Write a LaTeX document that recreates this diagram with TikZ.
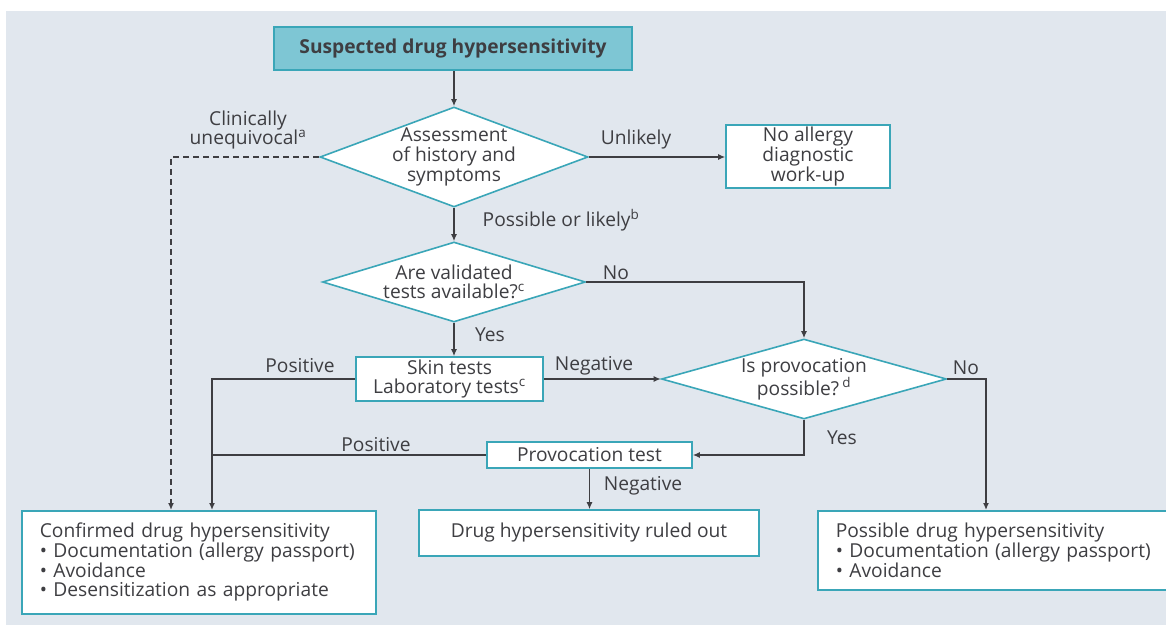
\documentclass[tikz,border=0pt]{standalone}
\usepackage{fontspec}
\setmainfont{Open Sans}
\usetikzlibrary{shapes.geometric,arrows.meta}

\definecolor{bgblue}{RGB}{225,231,238}
\definecolor{teal}{RGB}{58,166,184}
\definecolor{tealfill}{RGB}{126,198,212}
\definecolor{ink}{RGB}{62,62,66}

\tikzset{
  txt/.style = {text = ink, font = \fontsize{19.2}{19.6}\selectfont},
  box/.style = {txt, draw = teal, line width = 1.6pt, fill = white,
    align = center, inner sep = 0pt},
  dia/.style = {txt, diamond, aspect = 2.7, draw = teal, line width = 1.6pt,
    fill = white, align = center, inner sep = -12pt},
  lbl/.style = {txt, inner sep = 0pt},
  arr/.style = {draw = ink, line width = 1.3pt,
    -{Latex[length = 7pt, width = 6pt]}},
  line/.style = {draw = ink, line width = 1.3pt}
}

\begin{document}
\begin{tikzpicture}[x = 1pt, y = -1pt]
      % canvas
      % ------
      \useasboundingbox (0, 0) rectangle (1166, 628);
      \fill [white] (0, 0) rectangle (1166, 628);
      \fill [bgblue] (6, 11) rectangle (1166, 625);

      % nodes
      % -----
      \node [box, fill = tealfill, line width = 2.2pt,
        minimum width = 358pt, minimum height = 43pt,
        font = \fontsize{19.2}{19.6}\selectfont\bfseries]
        (suspect) at (453, 48.5) {Suspected drug hypersensitivity};
      \node [dia, minimum width = 268pt, minimum height = 100pt]
        (assess) at (454, 157) {Assessment\\of history and\\symptoms};
      \node [box, minimum width = 164pt, minimum height = 63pt]
        (noallergy) at (808, 156.5) {No allergy\\diagnostic\\work-up};
      \node [dia, minimum width = 263pt, minimum height = 80pt]
        (validated) at (454, 282) {Are validated\\tests available?\textsuperscript{c}};
      \node [box, minimum width = 187pt, minimum height = 44pt]
        (skintest) at (449.5, 379) {Skin tests\\Laboratory tests\textsuperscript{c}};
      \node [dia, minimum width = 285pt, minimum height = 80pt]
        (provq) at (804, 379) {Is provocation\\possible?\,\textsuperscript{d}};
      \node [box, minimum width = 205pt, minimum height = 26pt]
        (provtest) at (589.5, 455) {Provocation test};
      \node [box, minimum width = 340pt, minimum height = 46pt]
        (ruledout) at (589, 533) {Drug hypersensitivity ruled out};
      \node [box, align = left, anchor = north west, text width = 318pt,
        inner xsep = 18pt, minimum height = 103pt]
        (confirmed) at (21, 510) {Confirmed drug hypersensitivity\\
          • Documentation (allergy passport)\\
          • Avoidance\\
          • Desensitization as appropriate};
      \node [box, align = left, anchor = north west, text width = 340pt,
        inner xsep = 18pt, minimum height = 79pt]
        (possible) at (817, 510) {Possible drug hypersensitivity\\
          • Documentation (allergy passport)\\
          • Avoidance};

      % ends of the bent connectors
      % ---------------------------
      \coordinate (dashend) at (171, 510);
      \coordinate (posend) at (212, 510);
      \coordinate (noend) at (986, 510);

      % connectors
      % ----------
      \draw [arr] (assess.north |- suspect.south) -- (assess.north);
      \draw [arr] (assess.east) -- (assess.east -| noallergy.west);
      \draw [arr, dashed, dash pattern = on 6pt off 4pt] (assess.west) -| (dashend);
      \draw [arr] (assess.south) -- (validated.north);
      \draw [arr] (validated.south) -- (validated.south |- skintest.north);
      \draw [arr] (validated.east) -| (provq.north);
      \draw [arr] (skintest.east) -- (provq.west);
      \draw [arr] (skintest.west) -| (posend);
      \draw [line] (provtest.west) -- (provtest.west -| posend);
      \draw [arr] (provq.south) |- (provtest.east);
      \draw [arr] (provq.east) -| (noend);
      \draw [arr] (provtest.south) -- (provtest.south |- ruledout.north);

      % labels
      % ------
      \node [lbl, align = center] (unequiv) at (248, 130)
        {Clinically\\unequivocal\textsuperscript{a}};
      \node [lbl] (unlikely) at (636, 140) {Unlikely};
      \node [lbl] (likely) at (561, 220) {Possible or likely\textsuperscript{b}};
      \node [lbl] (noa) at (616, 273) {No};
      \node [lbl] (yesa) at (490, 335) {Yes};
      \node [lbl] (posa) at (300, 366) {Positive};
      \node [lbl] (nega) at (594, 366) {Negative};
      \node [lbl] (nob) at (966, 368) {No};
      \node [lbl] (yesb) at (842, 438) {Yes};
      \node [lbl] (posb) at (376, 445) {Positive};
      \node [lbl] (negb) at (643, 486) {Negative};
    \end{tikzpicture}
\end{document}
